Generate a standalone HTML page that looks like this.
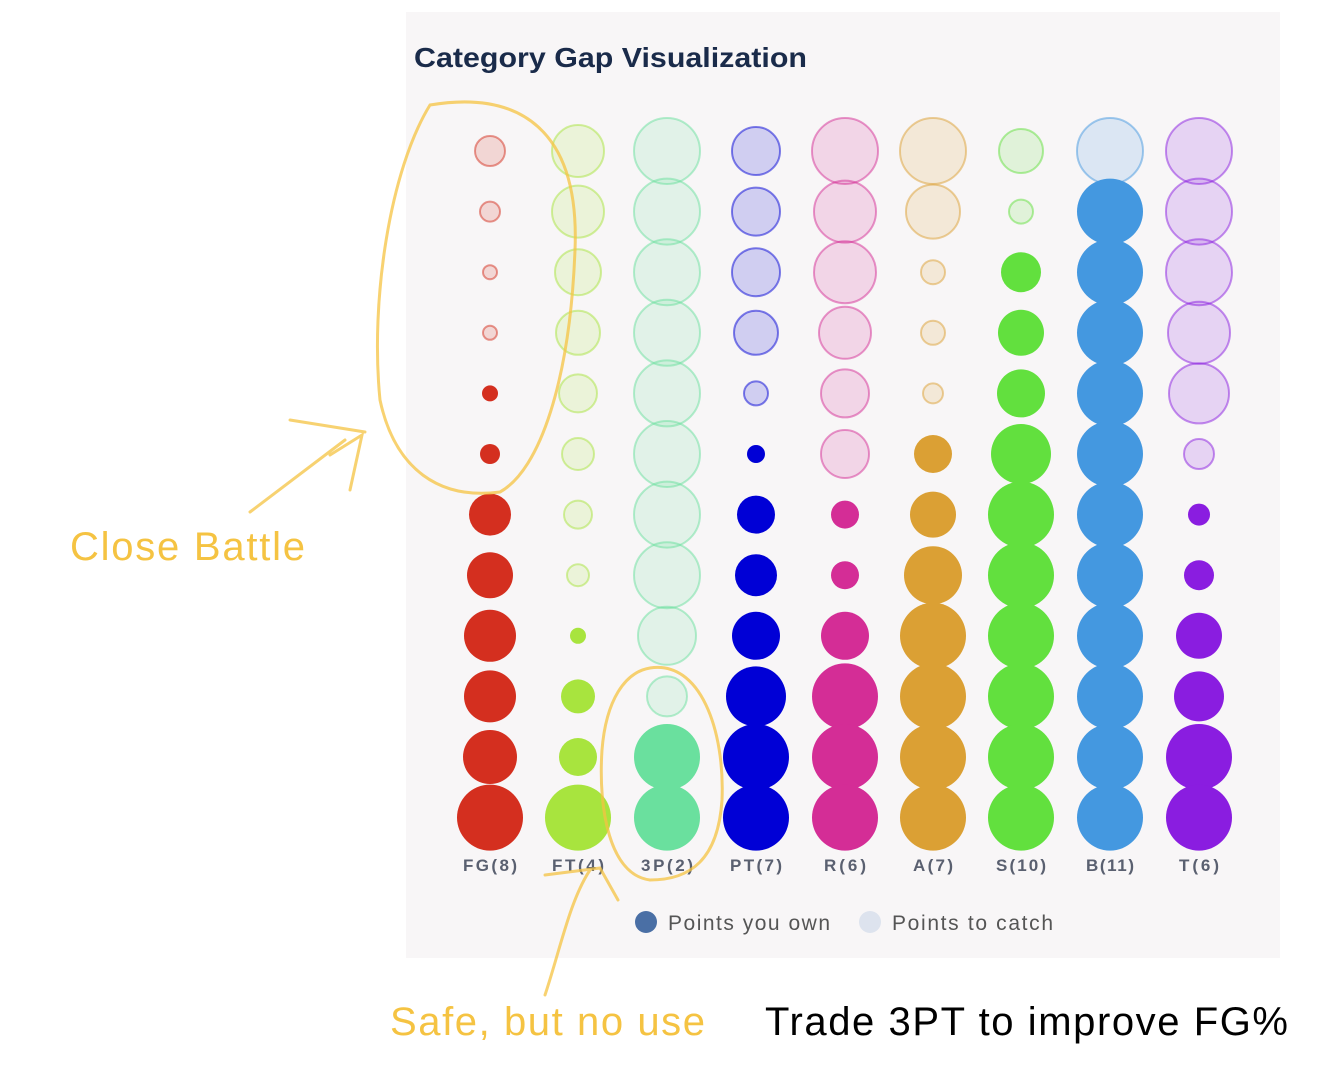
<!DOCTYPE html>
<html><head><meta charset="utf-8"><style>
html,body{margin:0;padding:0;background:#fff;width:1334px;height:1086px;overflow:hidden}
</style></head><body>
<svg width="1334" height="1086" xmlns="http://www.w3.org/2000/svg" style="position:absolute;left:0;top:0">
<rect x="406" y="12" width="874" height="946" fill="#f8f6f7"/>
<text x="414" y="67" font-family="Liberation Sans, sans-serif" font-weight="bold" font-size="28" fill="#1a2b4a" textLength="393" lengthAdjust="spacingAndGlyphs">Category Gap Visualization</text>
<g id="c"></g>
<g font-family="Liberation Sans, sans-serif" font-weight="bold" font-size="17" fill="#5a6070" text-anchor="middle">
<text x="490" y="871" textLength="54">FG(8)</text><text x="578" y="871" textLength="52">FT(4)</text><text x="667" y="871" textLength="52">3P(2)</text>
<text x="756" y="871" textLength="52">PT(7)</text><text x="845" y="871" textLength="42">R(6)</text><text x="933" y="871" textLength="40">A(7)</text>
<text x="1021" y="871" textLength="50">S(10)</text><text x="1110" y="871" textLength="48">B(11)</text><text x="1199" y="871" textLength="40">T(6)</text>
</g>
<circle cx="646" cy="922" r="11" fill="#4a6fa5"/>
<text x="668" y="930" font-family="Liberation Sans, sans-serif" font-size="21" fill="#555" textLength="162">Points you own</text>
<circle cx="870" cy="922" r="11" fill="#dde3ee"/>
<text x="892" y="930" font-family="Liberation Sans, sans-serif" font-size="21" fill="#555" textLength="161">Points to catch</text>
<g fill="none" stroke="#f5c342" stroke-width="3" opacity="0.75" stroke-linecap="round">
<path d="M430 105 C 520 90 580 130 575 250 C 570 380 540 470 500 492 C 440 500 395 470 380 400 C 370 300 390 170 430 105 Z"/>
<path d="M290 420 L 365 432 M350 490 L 362 435 L 330 455 M250 512 L 345 440"/>
<path d="M650 668 C 700 660 725 730 722 800 C 718 860 690 880 650 880 C 610 875 598 810 602 750 C 606 700 625 672 650 668 Z"/>
<path d="M545 995 C 560 950 570 900 590 870 M545 875 L 600 868 L 618 900"/>
</g>
<text x="70" y="560" font-family="Liberation Sans, sans-serif" font-size="40" fill="#f5c342" textLength="235">Close Battle</text>
<text x="390" y="1035" font-family="Liberation Sans, sans-serif" font-size="40" fill="#f5c342" textLength="315">Safe, but no use</text>
<text x="765" y="1035" font-family="Liberation Sans, sans-serif" font-size="40" fill="#000" textLength="523">Trade 3PT to improve FG%</text>
</svg>
<script>
var xs=[490,578,667,756,845,933,1021,1110,1199];
var cols=["#d42f1f","#a8e43e","#6ae09e","#0000d6","#d42d96","#dba034","#62e03e","#4498e0","#8a1de0"];
var data=[
 [[15,10,7,7],[8,10,21,23,26,26,27,33]],
 [[26,26,23,22,19,16,14,11],[8,17,19,33]],
 [[33,33,33,33,33,33,33,33,29,20],[33,33]],
 [[24,24,24,22,12],[9,19,21,24,30,33,33]],
 [[33,31,31,26,24,24],[14,14,24,33,33,33]],
 [[33,27,12,12,10],[19,23,29,33,33,33,33]],
 [[22,12],[20,23,24,30,33,33,33,33,33,33]],
 [[33],[33,33,33,33,33,33,33,33,33,33,33]],
 [[33,33,33,31,30,15],[11,15,23,25,33,33]]];
var g=document.getElementById("c"),ns="http://www.w3.org/2000/svg";
data.forEach(function(d,i){var row=0;
 d[0].forEach(function(r){var c=document.createElementNS(ns,"circle");c.setAttribute("cx",xs[i]);c.setAttribute("cy",151+row*60.6);c.setAttribute("r",r);c.setAttribute("fill",cols[i]);c.setAttribute("fill-opacity","0.16");c.setAttribute("stroke",cols[i]);c.setAttribute("stroke-opacity","0.5");c.setAttribute("stroke-width","2");g.appendChild(c);row++;});
 d[1].forEach(function(r){var c=document.createElementNS(ns,"circle");c.setAttribute("cx",xs[i]);c.setAttribute("cy",151+row*60.6);c.setAttribute("r",r);c.setAttribute("fill",cols[i]);g.appendChild(c);row++;});
});
</script>
</body></html>
